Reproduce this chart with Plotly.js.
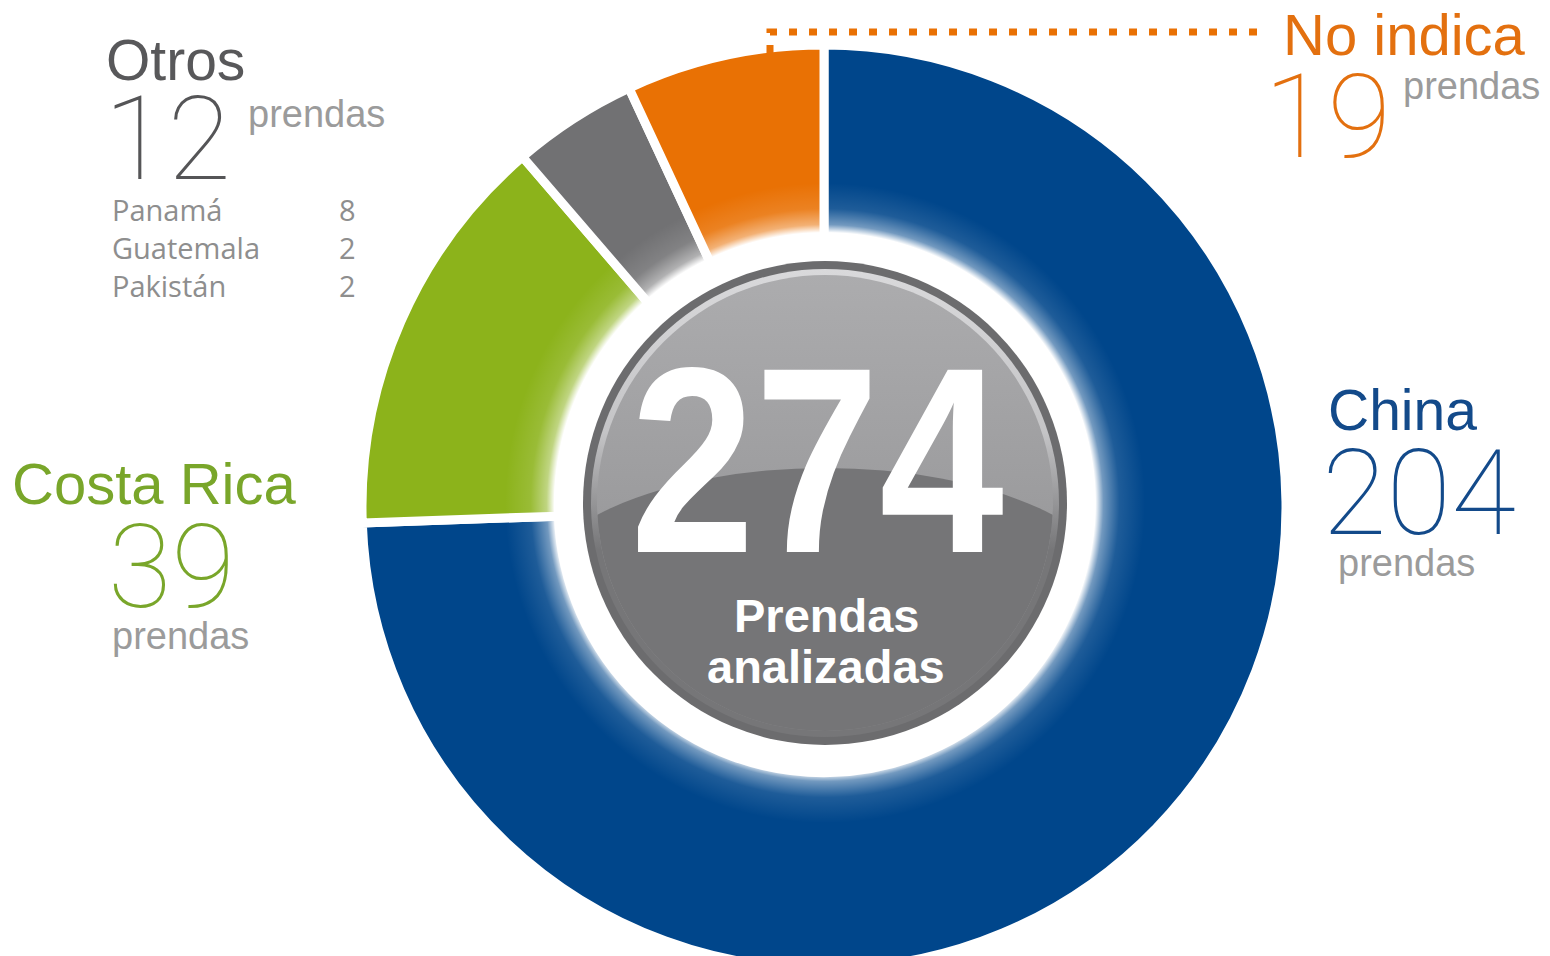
<!DOCTYPE html>
<html>
<head>
<meta charset="utf-8">
<script src="https://cdn.plot.ly/plotly-3.0.1.min.js"></script>
<style>
html,body{margin:0;padding:0;overflow:hidden;background:#fff;}
#chart{width:1550px;height:980px;}
</style>
</head>
<body>
<div id="chart"></div>
<script>
// ---- data ----
const labels = ['China', 'Costa Rica', 'Otros', 'No indica'];
const values = [204, 39, 12, 19];
const colors = ['#00468b', '#8cb31b', '#717173', '#e97104'];
const labelColors = ['#134a8a', '#79a62a', '#58585a', '#e3700f'];
const otrosDetailLabels = ['Panamá', 'Guatemala', 'Pakistán'];
const otrosDetailValues = [8, 2, 2];
const unitLabel = 'prendas';
const centerCaption = ['Prendas', 'analizadas'];

const total = values.reduce((a, b) => a + b, 0);

// ---- helpers (pixel -> paper) ----
const W = 1550, H = 980;
const px = x => x / W;
const py = y => 1 - y / H;

const thinFont = (size, color) => ({family: 'Roboto, "Liberation Sans", sans-serif', size: size, color: color, weight: 100});
const regFont = (size, color) => ({family: '"Liberation Sans", Arial, sans-serif', size: size, color: color});
const listFont = {family: '"Open Sans", sans-serif', size: 29, color: '#8e8e8e'};

const idx = name => labels.indexOf(name);

const annotations = [];
function ann(text, x, y, font, xanchor) {
  annotations.push({text: text, x: px(x), y: py(y), xref: 'paper', yref: 'paper',
    xanchor: xanchor || 'left', yanchor: 'middle', showarrow: false, font: font});
}

// Otros
const iO = idx('Otros');
ann(labels[iO], 104, 60, regFont(57, labelColors[iO]));
ann(String(values[iO]), 102, 139, thinFont(116, '#555557'));
ann(unitLabel, 246, 114, regFont(38, '#9b9b9b'));
otrosDetailLabels.forEach((l, k) => {
  ann(l, 110, 209 + k * 38.5, listFont);
  ann(String(otrosDetailValues[k]), 358, 209 + k * 38.5, listFont, 'right');
});

// No indica
const iN = idx('No indica');
ann(labels[iN], 1281, 35, regFont(58, labelColors[iN]));
ann(String(values[iN]), 1262, 117, thinFont(116, labelColors[iN]));
ann(unitLabel, 1401, 86, regFont(38, '#9b9b9b'));

// China
const iC = idx('China');
ann(labels[iC], 1326, 410, regFont(57, labelColors[iC]));
ann(String(values[iC]), 1320, 494, thinFont(118, labelColors[iC]));
ann(unitLabel, 1336, 563, regFont(38, '#9b9b9b'));

// Costa Rica
const iR = idx('Costa Rica');
ann(labels[iR], 10, 483, regFont(58, labelColors[iR]));
ann(String(values[iR]), 106, 567, thinFont(116, labelColors[iR]));
ann(unitLabel, 110, 636, regFont(38, '#9b9b9b'));

// Center total
ann(String(total), 818, 460, {family: '"Liberation Sans", Arial, sans-serif', size: 265, color: '#ffffff', weight: 'bold'}, 'center');
ann(centerCaption[0], 826, 615, {family: '"Liberation Sans", Arial, sans-serif', size: 47, color: '#ffffff', weight: 'bold'}, 'center');
ann(centerCaption[1], 826, 666, {family: '"Liberation Sans", Arial, sans-serif', size: 47, color: '#ffffff', weight: 'bold'}, 'center');

// ---- center decoration (svg image) ----
const svg = `<svg xmlns="http://www.w3.org/2000/svg" width="640" height="640" viewBox="0 0 640 640">
<defs>
<radialGradient id="glow" cx="320" cy="320" r="320" gradientUnits="userSpaceOnUse">
<stop offset="0" stop-color="#ffffff" stop-opacity="1"/>
<stop offset="0.845" stop-color="#ffffff" stop-opacity="1"/>
<stop offset="0.87" stop-color="#ffffff" stop-opacity="0.45"/>
<stop offset="0.92" stop-color="#ffffff" stop-opacity="0.12"/>
<stop offset="1" stop-color="#ffffff" stop-opacity="0"/>
</radialGradient>
<linearGradient id="rim" x1="0" y1="0" x2="0" y2="1">
<stop offset="0" stop-color="#d9d9db"/>
<stop offset="0.35" stop-color="#c4c4c6"/>
<stop offset="0.6" stop-color="#767678"/>
<stop offset="1" stop-color="#767678"/>
</linearGradient>
<linearGradient id="top" x1="0" y1="0" x2="0" y2="1">
<stop offset="0" stop-color="#acacae"/>
<stop offset="0.5" stop-color="#9c9c9e"/>
<stop offset="1" stop-color="#8a8a8c"/>
</linearGradient>
<clipPath id="c"><circle cx="320" cy="320" r="228"/></clipPath>
</defs>
<circle cx="320" cy="320" r="320" fill="url(#glow)"/>
<circle cx="320" cy="320" r="242" fill="#6c6c6e"/>
<circle cx="320" cy="320" r="234" fill="url(#rim)"/>
<circle cx="320" cy="320" r="228" fill="url(#top)"/>
<ellipse cx="320" cy="419" rx="300" ry="134" fill="#757577" clip-path="url(#c)"/>
</svg>`;
const svgUri = 'data:image/svg+xml;charset=utf-8,' + encodeURIComponent(svg);
const cx = 825, cy = 503, half = 320;

const R = 462, pcx = 824, pcy = 507;
const trace = {
  type: 'pie',
  labels: labels,
  values: values,
  marker: {colors: colors, line: {color: '#ffffff', width: 9}},
  hole: 0.575,
  sort: false,
  direction: 'clockwise',
  rotation: 0,
  textinfo: 'none',
  hoverinfo: 'label+value',
  domain: {x: [px(pcx - R), px(pcx + R)], y: [py(pcy + R), py(pcy - R)]}
};

const layout = {
  width: W, height: H,
  margin: {l: 0, r: 0, t: 0, b: 0},
  paper_bgcolor: '#ffffff',
  showlegend: false,
  annotations: annotations,
  images: [{source: svgUri, xref: 'paper', yref: 'paper', x: px(cx - half), y: py(cy - half),
    sizex: (2 * half) / W, sizey: (2 * half) / H, xanchor: 'left', yanchor: 'top', sizing: 'stretch', layer: 'above'}],
  shapes: [{type: 'path', xref: 'paper', yref: 'paper',
    path: `M ${px(770)},${py(53)} L ${px(770)},${py(32)} L ${px(1262)},${py(32)}`,
    line: {color: '#e97104', width: 7, dash: '8px,12px'}}]
};

Plotly.newPlot('chart', [trace], layout, {displayModeBar: false, staticPlot: true}).then(() => {
  // condense the big total like the reference's condensed bold face
  document.querySelectorAll('#chart .annotation-text').forEach(t => {
    if (t.textContent === String(total)) {
      t.style.transformBox = 'fill-box';
      t.style.transformOrigin = 'center';
      t.style.transform = 'scaleX(0.845)';
    }
  });
});
</script>
</body>
</html>
